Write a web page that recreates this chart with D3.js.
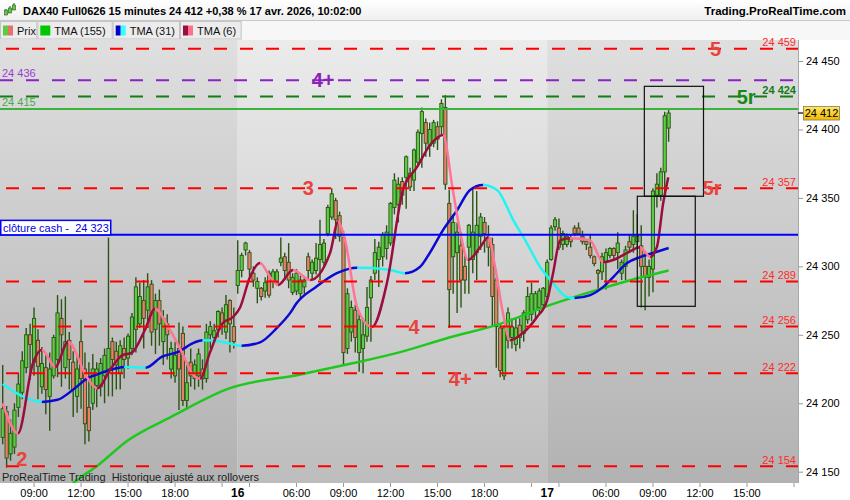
<!DOCTYPE html>
<html><head><meta charset="utf-8">
<script src="https://cdn.jsdelivr.net/npm/d3@7"></script>
<style>
html,body{margin:0;padding:0;background:#fff;}
svg{display:block;font-family:"Liberation Sans",Arial,sans-serif;}
</style></head><body>
<svg id="c" width="850" height="500"></svg>
<script>
// ---------- DATA ----------
const opens = [
24175,24194,24163,24168,24197,24208,24226,24250,24230,24246,
24212,24226,24205,24220,24232,24262,24226,24246,24230,24205,
24245,24225,24197,24200,24213,24212,24220,24225,24245,24238,
24222,24240,24233,24240,24254,24258,24275,24268,24287,24254,
24275,24245,24258,24225,24220,24240,24251,24202,24230,24218,
24220,24225,24218,24250,24248,24254,24266,24252,24275,24256,
24286,24297,24312,24310,24295,24284,24284,24282,24295,24289,
24288,24303,24307,24303,24281,24282,24280,24285,24307,24295,
24297,24305,24303,24324,24336,24348,24337,24321,24240,24252,
24268,24237,24240,24249,24277,24295,24305,24307,24313,24317,
24343,24345,24362,24365,24368,24363,24376,24397,24405,24388,
24390,24402,24402,24416,24346,24307,24310,24315,24300,24314,
24305,24310,24322,24332,24321,24316,24290,24255,24220,24246,
24248,24243,24257,24251,24261,24265,24268,24270,24272,24278,
24305,24329,24328,24316,24316,24320,24328,24328,24322,24318,
24314,24307,24297,24296,24303,24308,24313,24310,24295,24300,
24318,24316,24318,24315,24300,24292,24298,24352,24352,24369,24401];
const highs = [
24228,24198,24188,24200,24222,24238,24255,24258,24270,24254,
24241,24235,24237,24250,24279,24276,24278,24252,24238,24235,
24261,24237,24230,24236,24230,24233,24240,24321,24248,24245,
24246,24248,24251,24266,24292,24288,24290,24295,24290,24280,
24283,24268,24265,24245,24245,24259,24256,24228,24240,24232,
24240,24232,24258,24260,24258,24268,24270,24279,24276,24270,
24319,24310,24318,24312,24300,24292,24285,24292,24297,24298,
24298,24321,24310,24317,24295,24298,24293,24293,24310,24305,
24317,24334,24320,24345,24357,24350,24340,24326,24284,24275,
24272,24266,24262,24285,24293,24320,24318,24325,24330,24347,
24368,24365,24365,24381,24372,24386,24400,24416,24408,24405,
24407,24406,24422,24425,24356,24338,24332,24325,24308,24331,
24358,24355,24339,24336,24330,24321,24292,24257,24257,24270,
24262,24262,24262,24268,24285,24288,24282,24284,24285,24305,
24330,24336,24335,24326,24324,24323,24330,24332,24326,24320,
24323,24308,24298,24310,24313,24314,24314,24325,24305,24315,
24323,24341,24338,24330,24310,24305,24357,24368,24372,24413,24415];
const lows = [
24170,24153,24158,24163,24190,24203,24222,24217,24220,24203,
24207,24192,24180,24218,24219,24212,24218,24210,24190,24193,
24196,24170,24172,24195,24197,24205,24200,24205,24205,24210,
24210,24218,24225,24235,24237,24255,24240,24255,24242,24236,
24242,24228,24232,24218,24215,24195,24198,24195,24212,24210,
24212,24210,24215,24240,24245,24248,24250,24247,24237,24240,
24280,24292,24308,24293,24285,24273,24275,24277,24277,24284,
24286,24300,24290,24284,24279,24279,24276,24280,24290,24290,
24294,24290,24300,24322,24334,24320,24318,24228,24236,24245,
24237,24223,24222,24245,24245,24290,24285,24300,24305,24315,
24338,24332,24345,24342,24355,24355,24373,24372,24380,24380,
24387,24385,24396,24356,24255,24280,24266,24270,24280,24280,
24295,24290,24312,24310,24300,24256,24226,24219,24217,24240,
24240,24238,24240,24245,24258,24260,24262,24265,24270,24275,
24304,24326,24312,24312,24314,24314,24322,24323,24316,24312,
24306,24300,24283,24290,24283,24306,24305,24298,24290,24290,
24310,24310,24314,24270,24268,24278,24281,24343,24348,24352,24391];
const closes = [
24196,24160,24178,24195,24214,24231,24250,24243,24262,24227,
24229,24210,24225,24248,24266,24250,24245,24232,24210,24225,
24218,24185,24180,24225,24225,24229,24235,24240,24232,24228,
24242,24232,24249,24263,24285,24278,24262,24285,24252,24275,
24258,24262,24250,24240,24235,24225,24202,24215,24220,24228,
24236,24218,24252,24256,24253,24267,24258,24272,24258,24245,
24297,24308,24317,24298,24290,24289,24278,24288,24279,24296,
24296,24306,24297,24290,24292,24295,24290,24290,24297,24303,
24306,24316,24317,24343,24353,24334,24322,24237,24280,24270,
24248,24261,24250,24270,24290,24310,24314,24323,24325,24346,
24363,24360,24352,24380,24358,24385,24398,24413,24390,24400,
24405,24393,24419,24360,24283,24332,24325,24290,24290,24330,
24325,24330,24336,24324,24314,24278,24256,24224,24255,24266,
24256,24255,24248,24266,24278,24280,24280,24282,24284,24303,
24328,24334,24314,24324,24322,24318,24324,24324,24318,24316,
24308,24302,24295,24307,24310,24313,24308,24317,24303,24312,
24314,24322,24322,24300,24292,24300,24355,24360,24369,24410,24412];

// moving averages, read at knots (bar index, value)
const tma155Bars = [16,19,24,32,43,58,76,89,101,114,127,140,152,163,170];
const tma155Vals = [24137,24144,24154,24173,24190,24211,24221,24229,24237,24248,24258,24272,24283,24292,24297];
const tma31Bars = [0,4.4,10,14,18,21.5,25,29,31,36.5,40.7,44.8,49,51,56,61,65.7,70,73.4,75,80,85.3,90.5,94,99,102.7,106.5,109,112.4,116,119.3,122.6,126.2,130.3,133.8,137.2,140.5,144,146,150,153.3,155.8,159.4,162.7,166,170];
const tma31Vals = [24214,24206,24201,24202.5,24210,24218,24222,24225.5,24226.5,24226,24234,24237.5,24244.5,24246,24245,24242,24244.5,24255,24266,24273,24285,24295,24299,24298.8,24297.3,24295,24299.5,24309.7,24326.5,24341,24355.8,24359.4,24355.8,24334,24317,24299.5,24287.8,24277.6,24276.9,24279,24285,24292,24302.4,24306.8,24309.8,24313.4];
const tma6Bars = [0,3.9,7.7,10,13.4,16.7,21.5,24.1,27.9,30.5,33,36.3,38.9,42.2,45.8,48.3,50.4,52.9,56.2,58.8,60.6,63.1,65.7,68.3,70.3,74.1,78.5,83.6,85.6,87.4,90.5,94.3,98.1,102.2,105.8,109.1,112.4,114.9,116.7,118.8,121.9,124,125.7,127.7,129.5,132.8,136.4,139,140.5,142.3,144.8,149.9,153.3,155.8,159.4,162.7,165.3,167,168.6,169.9];
const tma6Vals = [24200,24178,24229,24239,24226.5,24245,24219,24211,24226.5,24235,24237,24253.5,24269,24256,24237,24222,24218,24237,24258.6,24263,24270,24292,24302.4,24292,24286.4,24297.3,24290,24310,24332.4,24319,24270,24255.7,24288,24356,24372.6,24388.6,24396,24356,24326.6,24304.6,24314,24321.4,24299.5,24266,24246,24251.3,24263,24275.4,24295,24319,24320.5,24319,24303,24304.6,24309.8,24314,24307,24314,24346,24365];

// horizontal levels
const levelPrices = [24459,24436,24424,24415,24357,24323,24289,24256,24222,24154];
const levelKinds  = ["red","purple","dkgreen","green","red","blue","red","red","red","red"];
const levelTexts  = ["24 459","24 436","24 424","24 415","24 357","clôture cash -  24 323","24 289","24 256","24 222","24 154"];
// zone tags
const tagTexts  = ["5","4+","5r","3","5r","4","4+","2"];
const tagPrices = [24459,24436,24424,24357,24357,24256,24218,24159.5];
const tagBars   = [182,81.8,189.8,78,181.1,105,116.8,4.85];
const tagKinds  = ["red","purple","dkgreen","red","red","red","red","red"];
// drawn rectangles (bar range, price range)
const boxBarFrom = [163.8,162.0];
const boxBarTo   = [178.9,176.8];
const boxPriceTop = [24431.5,24351.2];
const boxPriceBot = [24351.2,24270.8];
// axes
const priceTicks = [24150,24200,24250,24300,24350,24400,24450];
const timeTickBars = [8,20,32,44,60,75,87,99,111,123,139,154,166,178,190];
const timeTickLabels = ["09:00","12:00","15:00","18:00","16","06:00","09:00","12:00","15:00","18:00","17","06:00","09:00","12:00","15:00"];
const minorTickBars = [56,63,135,142,202];
const dayStartBars = [0,60,139];
const lastPrice = 24412;
const titleText = "DAX40 Full0626 15 minutes 24 412 +0,38 % 17 avr. 2026, 10:02:00";

// ---------- STYLE ----------
const kindStyle = {
  red:{stroke:"#ff0000",dash:"13,13",text:"#ff2b2b",tag:"#e8433d"},
  purple:{stroke:"#8d22c8",dash:"13,13",text:"#9a3fd0",tag:"#8a22b8"},
  dkgreen:{stroke:"#157d15",dash:"13,13",text:"#157a15",tag:"#168a16"},
  green:{stroke:"#3cb43c",dash:null,text:"#49a849"},
  blue:{stroke:"#0000ff",dash:null,text:"#0000e0"}
};
const plot = {l:0, r:798, t:40, b:483};

const svg = d3.select("#c");
const defs = svg.append("defs");
function grad(id,c1,c2){
  const g = defs.append("linearGradient").attr("id",id).attr("x1",0).attr("y1",0).attr("x2",0).attr("y2",1);
  g.append("stop").attr("offset","0%").attr("stop-color",c1);
  g.append("stop").attr("offset","100%").attr("stop-color",c2);
}
grad("gLight","#ebebeb","#bdbdbd");
grad("gDark","#dfdfdf","#b2b2b2");
grad("gTitle","#ffffff","#eeeeee");
grad("gYellow","#ffe866","#f2b600");
defs.append("clipPath").attr("id","plotClip").append("rect")
  .attr("x",plot.l).attr("y",plot.t).attr("width",plot.r-plot.l).attr("height",plot.b-plot.t);

const x = d3.scaleLinear().domain([0,203]).range([2.7,797.9]);
const y = d3.scaleLinear().domain([24150,24450]).range([471.7,61]);

// background
svg.append("rect").attr("width",850).attr("height",500).attr("fill","#fff");

// header (drawn first so plot labels can sit on top)
svg.append("rect").attr("x",0).attr("y",0).attr("width",850).attr("height",21).attr("fill","url(#gTitle)");
svg.append("line").attr("x1",0).attr("x2",850).attr("y1",20.5).attr("y2",20.5).attr("stroke","#c8c8c8");
[[6,9,15,10,13],[10,6,13,8,11],[14,3,10,5,8]].forEach(c=>{
  svg.append("line").attr("x1",c[0]).attr("x2",c[0]).attr("y1",c[1]).attr("y2",c[2]).attr("stroke","#2b5314").attr("stroke-width",1);
  svg.append("rect").attr("x",c[0]-1.5).attr("y",c[3]).attr("width",3).attr("height",c[4]-c[3]+2).attr("fill","#5acd44").attr("stroke","#2b5314").attr("stroke-width",0.6);
});
svg.append("text").attr("x",23).attr("y",15).attr("font-size",11).attr("font-weight","bold").attr("fill","#000").text(titleText);
svg.append("text").attr("x",846).attr("y",15).attr("text-anchor","end").attr("font-size",11.5).attr("font-weight","bold").attr("fill","#000").text("Trading.ProRealTime.com");
svg.append("rect").attr("x",0).attr("y",21).attr("width",850).attr("height",19).attr("fill","#f7f7f7");
const legItems = [
  {w:37.3, c:["#5acd44","#e8706a"], t:"Prix"},
  {w:75.4, c:["#00c800"], t:"TMA (155)"},
  {w:67.3, c:["#0000cc","#33ffff"], t:"TMA (31)"},
  {w:61.7, c:["#9a0d3e","#ff6e91"], t:"TMA (6)"}
];
let lx = 0;
legItems.forEach(it=>{
  svg.append("rect").attr("x",lx+0.5).attr("y",21.5).attr("width",it.w-1).attr("height",17.5)
    .attr("fill","#ececec").attr("stroke","#c4c4c4");
  const sw = 10/it.c.length;
  it.c.forEach((col,j)=>{
    svg.append("rect").attr("x",lx+3+j*sw).attr("y",25.5).attr("width",sw).attr("height",10).attr("fill",col);
  });
  svg.append("text").attr("x",lx+17).attr("y",34.5).attr("font-size",11).attr("fill","#111").text(it.t);
  lx += it.w;
});

// day shading
const bg = svg.append("g");
dayStartBars.forEach((b,k)=>{
  const x0 = k===0 ? plot.l : x(b);
  const x1 = k<dayStartBars.length-1 ? x(dayStartBars[k+1]) : plot.r;
  bg.append("rect").attr("x",x0).attr("y",plot.t).attr("width",x1-x0).attr("height",plot.b-plot.t)
    .attr("fill", k%2 ? "url(#gLight)" : "url(#gDark)");
});

// candles
const cg = svg.append("g").attr("clip-path","url(#plotClip)");
const idx = d3.range(opens.length);
cg.selectAll("line.w").data(idx).join("line").attr("class","w")
  .attr("x1",i=>x(i)).attr("x2",i=>x(i))
  .attr("y1",i=>y(highs[i])).attr("y2",i=>y(lows[i]))
  .attr("stroke","#2b5314").attr("stroke-width",1.4);
cg.selectAll("rect.b").data(idx).join("rect").attr("class","b")
  .attr("x",i=>x(i)-1.6).attr("width",3.2)
  .attr("y",i=>y(Math.max(opens[i],closes[i])))
  .attr("height",i=>Math.max(1,y(Math.min(opens[i],closes[i]))-y(Math.max(opens[i],closes[i]))))
  .attr("fill",i=>closes[i]>=opens[i]?"#5acd44":"#e8806c")
  .attr("stroke","#2b5314").attr("stroke-width",0.9);

// moving averages
const maLayer = svg.append("g").attr("clip-path","url(#plotClip)");
function drawMA(bars, vals, upC, downC, id){
  const line = d3.line().x((d,k)=>x(bars[k])).y(d=>y(d)).curve(d3.curveMonotoneX);
  const dAttr = line(vals);
  const runs = [];
  let start = 0, dir = vals[1] >= vals[0];
  for(let k=1;k<vals.length-1;k++){
    const d2 = vals[k+1] >= vals[k];
    if(d2 !== dir){ runs.push([start,k,dir]); start = k; dir = d2; }
  }
  runs.push([start, vals.length-1, dir]);
  runs.forEach((r,j)=>{
    const cid = id+"_"+j;
    const x0 = x(bars[r[0]]) - (j===0 ? 3 : 0);
    const x1 = x(bars[r[1]]) + (j===runs.length-1 ? 3 : 0.4);
    defs.append("clipPath").attr("id",cid).append("rect")
      .attr("x",x0).attr("y",0).attr("width",x1-x0).attr("height",500);
    maLayer.append("g").attr("clip-path",`url(#${cid})`).append("path")
      .attr("d",dAttr).attr("fill","none")
      .attr("stroke", r[2] ? upC : downC).attr("stroke-width",2.5).attr("stroke-linejoin","round");
  });
}
drawMA(tma155Bars, tma155Vals, "#1fc81f", "#1fc81f", "m155");
drawMA(tma31Bars, tma31Vals, "#0a0ad2", "#22f4f4", "m31");
drawMA(tma6Bars, tma6Vals, "#9a0d3e", "#ff7595", "m6");

// horizontal levels
const lv = svg.append("g").attr("clip-path","url(#plotClip)");
levelPrices.forEach((p,k)=>{
  const st = kindStyle[levelKinds[k]];
  const ln = lv.append("line").attr("x1", st.dash ? (levelKinds[k]==="red"?6:0) : plot.l).attr("x2",plot.r)
    .attr("y1",y(p)).attr("y2",y(p)).attr("stroke",st.stroke).attr("stroke-width",2);
  if(st.dash) ln.attr("stroke-dasharray",st.dash);
});

// rectangles
const bx = svg.append("g");
boxBarFrom.forEach((b,k)=>{
  bx.append("rect").attr("x",x(b)).attr("y",y(boxPriceTop[k]))
    .attr("width",x(boxBarTo[k])-x(b)).attr("height",y(boxPriceBot[k])-y(boxPriceTop[k]))
    .attr("fill","none").attr("stroke","#111").attr("stroke-width",1.2);
});

// level labels
const lt = svg.append("g").attr("font-size",11);
levelPrices.forEach((p,k)=>{
  const kind = levelKinds[k], st = kindStyle[kind];
  if(kind==="blue"){
    lt.append("rect").attr("x",0.75).attr("y",y(p)-14.5).attr("width",110).attr("height",14.5)
      .attr("fill","#fff").attr("stroke","#0000ff").attr("stroke-width",1.5);
    lt.append("text").attr("x",3).attr("y",y(p)-3).attr("fill",st.text)
      .attr("xml:space","preserve").style("white-space","pre").text(levelTexts[k]);
  } else if(kind==="purple" || kind==="green"){
    lt.append("text").attr("x",2).attr("y",y(p)-3).attr("fill",st.text).text(levelTexts[k]);
  } else {
    lt.append("text").attr("x",796).attr("y",y(p)-2.5).attr("text-anchor","end")
      .attr("fill",st.text).attr("font-weight",kind==="dkgreen"?"bold":"normal").text(levelTexts[k]);
  }
});

// zone tags
const tg = svg.append("g").attr("font-size",20).attr("font-weight","bold").attr("text-anchor","middle");
tagTexts.forEach((t,k)=>{
  tg.append("text").attr("x",x(tagBars[k])).attr("y",y(tagPrices[k])+7)
    .attr("fill",kindStyle[tagKinds[k]].tag).text(t);
});

// bottom note
svg.append("text").attr("x",2).attr("y",480.8).attr("font-size",11).attr("fill","#222")
  .attr("xml:space","preserve").style("white-space","pre")
  .text("ProRealTime Trading  Historique ajusté aux rollovers");

// axis areas
svg.append("rect").attr("x",plot.r).attr("y",plot.t).attr("width",850-plot.r).attr("height",500-plot.t).attr("fill","#fff");
svg.append("rect").attr("x",0).attr("y",plot.b).attr("width",850).attr("height",500-plot.b).attr("fill","#fff");
svg.append("line").attr("x1",plot.r+0.5).attr("x2",plot.r+0.5).attr("y1",plot.t).attr("y2",plot.b).attr("stroke","#a8a8a8");

// price axis
const ya = svg.append("g").attr("transform",`translate(${plot.r},0)`)
  .call(d3.axisRight(y).tickValues(priceTicks).tickSize(5).tickPadding(3)
    .tickFormat(d=>d3.format(",")(d).replace(","," ")));
ya.select(".domain").remove();
ya.selectAll(".tick line").attr("stroke","#999");
ya.selectAll(".tick text").attr("font-size",11).attr("font-family","Liberation Sans, Arial, sans-serif").attr("fill","#000");

// last price marker
svg.append("line").attr("x1",plot.r).attr("x2",plot.r+5).attr("y1",y(lastPrice)).attr("y2",y(lastPrice)).attr("stroke","#000").attr("stroke-width",1.2);
svg.append("rect").attr("x",803.5).attr("y",y(lastPrice)-6.5).attr("width",36).attr("height",13.5)
  .attr("fill","url(#gYellow)").attr("stroke","#8a7a50").attr("stroke-width",0.8);
svg.append("text").attr("x",821.5).attr("y",y(lastPrice)+4).attr("text-anchor","middle")
  .attr("font-size",11).attr("fill","#000").text(d3.format(",")(lastPrice).replace(","," "));

// time axis
const xa = svg.append("g");
timeTickBars.forEach((b,k)=>{
  const isDay = timeTickLabels[k].length<=2;
  if(!isDay) xa.append("line").attr("x1",x(b)).attr("x2",x(b)).attr("y1",plot.b).attr("y2",plot.b+4).attr("stroke","#999");
  xa.append("text").attr("x",x(b)).attr("y",497).attr("text-anchor","middle")
    .attr("font-size",isDay?12:11).attr("font-weight",isDay?"bold":"normal").attr("fill","#000").text(timeTickLabels[k]);
});
minorTickBars.forEach(b=>{
  xa.append("line").attr("x1",x(b)).attr("x2",x(b)).attr("y1",plot.b).attr("y2",plot.b+4).attr("stroke","#999");
});
</script>
</body></html>
